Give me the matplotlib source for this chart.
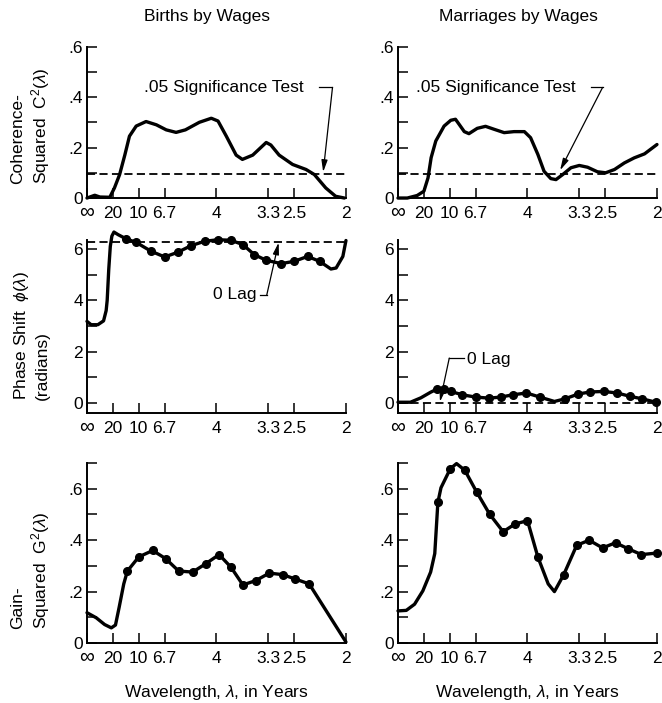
import matplotlib
matplotlib.use("Agg")
import matplotlib.pyplot as plt
from matplotlib.ticker import FixedLocator, MultipleLocator
from matplotlib.transforms import ScaledTranslation

plt.rcParams['font.family'] = ['Liberation Sans', 'DejaVu Sans']
plt.rcParams['mathtext.fontset'] = 'custom'
plt.rcParams['mathtext.rm'] = 'Liberation Sans'
plt.rcParams['mathtext.it'] = 'Liberation Sans:italic'

# x axis: frequency (cycles/year), labelled by wavelength in years
x_ticks = [0, 0.05, 0.10, 0.15, 0.25, 0.35, 0.40, 0.50]
x_labels = ['∞', '20', '10', '6.7', '4', '3.3', '2.5', '2']

sig_level = 0.097
zero_lag_births = 6.283
zero_lag_marr = 0.0

# coherence-squared, births by wages
coh_births_f = [0.0, 0.015, 0.025, 0.044, 0.053, 0.063, 0.073, 0.082, 0.095, 0.114,
                0.134, 0.153, 0.172, 0.19, 0.217, 0.24, 0.253, 0.269, 0.288, 0.30,
                0.32, 0.346, 0.355, 0.371, 0.397, 0.423, 0.439, 0.461, 0.48, 0.497]
coh_births_v = [0.0, 0.011, 0.004, 0.003, 0.04, 0.093, 0.17, 0.245, 0.285, 0.303,
                0.29, 0.27, 0.26, 0.27, 0.30, 0.316, 0.305, 0.245, 0.17, 0.153,
                0.17, 0.22, 0.21, 0.17, 0.133, 0.113, 0.093, 0.04, 0.007, 0.0]

# coherence-squared, marriages by wages
coh_marr_f = [0.0, 0.018, 0.037, 0.05, 0.058, 0.064, 0.073, 0.089, 0.102, 0.111,
              0.118, 0.128, 0.137, 0.153, 0.169, 0.186, 0.205, 0.224, 0.244, 0.256,
              0.27, 0.282, 0.295, 0.305, 0.318, 0.334, 0.35, 0.366, 0.385, 0.401,
              0.418, 0.437, 0.456, 0.476, 0.5]
coh_marr_v = [0.0, 0.0, 0.01, 0.027, 0.08, 0.16, 0.226, 0.285, 0.308, 0.312,
              0.292, 0.263, 0.255, 0.276, 0.284, 0.272, 0.259, 0.263, 0.263, 0.239,
              0.173, 0.106, 0.077, 0.073, 0.093, 0.12, 0.129, 0.122, 0.104, 0.1,
              0.113, 0.139, 0.159, 0.175, 0.212]

# phase shift, births by wages (dot = plotted point)
phase_births_f = [0.0, 0.008, 0.021, 0.032, 0.037, 0.039, 0.042, 0.045, 0.048, 0.052,
                  0.06, 0.076, 0.095, 0.108, 0.124, 0.15, 0.175, 0.201, 0.227, 0.253,
                  0.278, 0.301, 0.323, 0.346, 0.375, 0.40, 0.426, 0.449, 0.471, 0.481,
                  0.494, 0.50]
phase_births_v = [3.18, 3.05, 3.05, 3.2, 3.6, 4.0, 5.2, 6.1, 6.5, 6.66,
                  6.56, 6.39, 6.26, 6.1, 5.91, 5.69, 5.87, 6.13, 6.3, 6.36,
                  6.34, 6.17, 5.78, 5.56, 5.43, 5.52, 5.71, 5.52, 5.22, 5.26,
                  5.71, 6.33]
phase_births_dot = [0, 0, 0, 0, 0, 0, 0, 0, 0, 0,
                    0, 1, 1, 0, 1, 1, 1, 1, 1, 1,
                    1, 1, 1, 1, 1, 1, 1, 1, 0, 0,
                    0, 0]

# phase shift, marriages by wages
phase_marr_f = [0.0, 0.024, 0.044, 0.063, 0.076, 0.089, 0.102, 0.124, 0.15, 0.176,
                0.198, 0.222, 0.248, 0.274, 0.302, 0.322, 0.348, 0.371, 0.397, 0.423,
                0.448, 0.472, 0.498]
phase_marr_v = [0.03, 0.03, 0.2, 0.42, 0.55, 0.56, 0.45, 0.32, 0.23, 0.19,
                0.23, 0.32, 0.39, 0.23, 0.06, 0.16, 0.35, 0.43, 0.45, 0.39,
                0.26, 0.16, 0.03]
phase_marr_dot = [0, 0, 0, 0, 1, 1, 1, 1, 1, 1,
                  1, 1, 1, 1, 0, 1, 1, 1, 1, 1,
                  1, 1, 1]

# gain-squared, births by wages
gain_births_f = [0.0, 0.018, 0.034, 0.047, 0.055, 0.062, 0.071, 0.078, 0.10, 0.127,
                 0.152, 0.177, 0.204, 0.229, 0.255, 0.278, 0.301, 0.326, 0.352, 0.378,
                 0.402, 0.429, 0.50]
gain_births_v = [0.118, 0.098, 0.072, 0.059, 0.07, 0.138, 0.23, 0.28, 0.335, 0.36,
                 0.328, 0.28, 0.276, 0.308, 0.344, 0.295, 0.226, 0.243, 0.272, 0.266,
                 0.249, 0.23, 0.004]
gain_births_dot = [0, 0, 0, 0, 0, 0, 0, 1, 1, 1,
                   1, 1, 1, 1, 1, 1, 1, 1, 1, 1,
                   1, 1, 0]

# gain-squared, marriages by wages
gain_marr_f = [0.0, 0.016, 0.032, 0.048, 0.063, 0.071, 0.077, 0.083, 0.101, 0.113,
               0.129, 0.152, 0.177, 0.203, 0.226, 0.25, 0.27, 0.29, 0.302, 0.32,
               0.345, 0.369, 0.395, 0.42, 0.444, 0.47, 0.50]
gain_marr_v = [0.125, 0.127, 0.151, 0.203, 0.276, 0.348, 0.547, 0.604, 0.678, 0.698,
               0.672, 0.587, 0.501, 0.433, 0.463, 0.476, 0.335, 0.23, 0.20, 0.266,
               0.38, 0.40, 0.37, 0.39, 0.367, 0.344, 0.35]
gain_marr_dot = [0, 0, 0, 0, 0, 0, 1, 0, 1, 0,
                 1, 1, 1, 1, 1, 1, 1, 0, 0, 1,
                 1, 1, 1, 1, 1, 1, 1]

fig = plt.figure(figsize=(6.62, 7.03), dpi=100)

lefts = [0.1314, 0.6012]
width = 0.3912
rows = [(0.7183, 0.2155), (0.4125, 0.2461), (0.0853, 0.2560)]


def style_axis(ax, ylim, yticks, ylabels, yminor):
    ax.set_xlim(0, 0.5)
    ax.set_ylim(*ylim)
    ax.xaxis.set_major_locator(FixedLocator(x_ticks))
    ax.set_xticklabels(x_labels)
    ax.yaxis.set_major_locator(FixedLocator(yticks))
    ax.set_yticklabels(ylabels)
    ax.yaxis.set_minor_locator(MultipleLocator(yminor))
    for s in ['top', 'right']:
        ax.spines[s].set_visible(False)
    for s in ['left', 'bottom']:
        ax.spines[s].set_linewidth(1.4)
    ax.tick_params(which='both', direction='in', length=7, width=1.1,
                   labelsize=12.5, colors='black')
    ax.tick_params(axis='x', pad=6)
    ax.tick_params(axis='y', pad=3)
    # the infinity sign is printed large in the original
    inf_label = ax.get_xticklabels()[0]
    inf_label.set_fontsize(15)
    inf_label.set_transform(inf_label.get_transform() +
                            ScaledTranslation(0, 3 / 100, fig.dpi_scale_trans))


def draw_curve(ax, f, v, dot=None):
    ax.plot(f, v, color='black', lw=2.4, solid_joinstyle='round',
            solid_capstyle='round', clip_on=False, zorder=3)
    if dot is not None:
        fx = [a for a, d in zip(f, dot) if d]
        fy = [b for b, d in zip(v, dot) if d]
        ax.plot(fx, fy, 'o', color='black', ms=5.5, clip_on=False, zorder=4)


def dashed(ax, y):
    ax.plot([0, 0.5], [y, y], color='black', lw=1.3, dashes=(4.5, 2.4),
            clip_on=False, zorder=2)


axes = {}
for r, (b, h) in enumerate(rows):
    for c, l in enumerate(lefts):
        axes[(r, c)] = fig.add_axes([l, b, width, h])

# coherence row
for c in range(2):
    ax = axes[(0, c)]
    style_axis(ax, (0, 0.6), [0, 0.2, 0.4, 0.6], ['0', '.2', '.4', '.6'], 0.1)
    dashed(ax, sig_level)
draw_curve(axes[(0, 0)], coh_births_f, coh_births_v)
draw_curve(axes[(0, 1)], coh_marr_f, coh_marr_v)

# phase row
for c in range(2):
    ax = axes[(1, c)]
    style_axis(ax, (-0.39, 6.35), [0, 2, 4, 6], ['0', '2', '4', '6'], 1)
dashed(axes[(1, 0)], zero_lag_births)
dashed(axes[(1, 1)], zero_lag_marr)
draw_curve(axes[(1, 0)], phase_births_f, phase_births_v, phase_births_dot)
draw_curve(axes[(1, 1)], phase_marr_f, phase_marr_v, phase_marr_dot)

# gain row
for c in range(2):
    ax = axes[(2, c)]
    style_axis(ax, (0, 0.7), [0, 0.2, 0.4, 0.6], ['0', '.2', '.4', '.6'], 0.1)
draw_curve(axes[(2, 0)], gain_births_f, gain_births_v, gain_births_dot)
draw_curve(axes[(2, 1)], gain_marr_f, gain_marr_v, gain_marr_dot)

# annotations
arrow = dict(arrowstyle='-|>,head_length=0.7,head_width=0.18', color='black',
             lw=0.9, shrinkA=0, shrinkB=0)

ax = axes[(0, 0)]
ax.text(0.111, 0.438, '.05 Significance Test', fontsize=12.5, va='center', ha='left')
ax.plot([0.448, 0.474], [0.438, 0.438], color='black', lw=0.9)
ax.annotate('', xy=(0.456, 0.103), xytext=(0.474, 0.438), arrowprops=arrow)

ax = axes[(0, 1)]
ax.text(0.034, 0.438, '.05 Significance Test', fontsize=12.5, va='center', ha='left')
ax.plot([0.373, 0.395], [0.438, 0.438], color='black', lw=0.9)
ax.annotate('', xy=(0.313, 0.11), xytext=(0.395, 0.438), arrowprops=arrow)

ax = axes[(1, 0)]
ax.text(0.243, 4.22, '0 Lag', fontsize=12.5, va='center', ha='left')
ax.plot([0.334, 0.347], [4.2, 4.2], color='black', lw=0.9)
ax.annotate('', xy=(0.370, 6.25), xytext=(0.347, 4.2), arrowprops=arrow)

ax = axes[(1, 1)]
ax.text(0.134, 1.71, '0 Lag', fontsize=12.5, va='center', ha='left')
ax.plot([0.099, 0.128], [1.75, 1.75], color='black', lw=0.9)
ax.annotate('', xy=(0.081, 0.05), xytext=(0.099, 1.75), arrowprops=arrow)

# column titles
fig.text(207 / 662, 1 - 17 / 703, 'Births by Wages', fontsize=12.5,
         ha='center', va='center')
fig.text(518 / 662, 1 - 17 / 703, 'Marriages by Wages', fontsize=12.5,
         ha='center', va='center')

# row labels
ylab = dict(fontsize=12.5, rotation=90, ha='center', va='bottom',
            multialignment='left', linespacing=1.25)
fig.text(31 / 662, 1 - 184 / 703, 'Coherence-\nSquared  C$^2$($\\lambda$)', **ylab)
fig.text(31 / 662, 1 - 400 / 703, 'Phase Shift  $\\phi$($\\lambda$)\n(radians)', **ylab)
fig.text(31 / 662, 1 - 629 / 703, 'Gain-\nSquared  G$^2$($\\lambda$)', **ylab)

# x labels
for l in lefts:
    fig.text(l + width / 2, 1 - 692 / 703, 'Wavelength, $\\lambda$, in Years',
             fontsize=12.5, ha='center', va='center')

fig.savefig('out.png', dpi=100)
